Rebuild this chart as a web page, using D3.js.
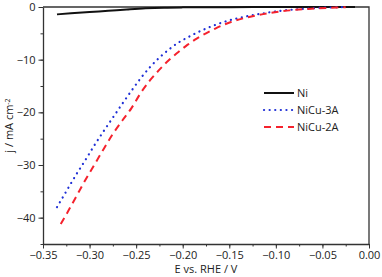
<!DOCTYPE html>
<html>
<head>
<meta charset="utf-8">
<script src="https://cdn.jsdelivr.net/npm/d3@7"></script>
<style>
  body { margin: 0; background: #fff; }
  svg text { font-family: "Open Sans", sans-serif; fill: #222; }
</style>
</head>
<body>
<div id="chart"></div>
<script>
// Values (E in V vs RHE, j in mA cm-2)
const niE = [-0.335, -0.32, -0.30, -0.28, -0.26, -0.24, -0.22, -0.20, -0.15, -0.10, -0.05, -0.015];
const niJ = [-1.4, -1.2, -0.95, -0.72, -0.47, -0.25, -0.12, -0.07, -0.03, -0.01, 0, 0];

const cu3E = [-0.335, -0.325, -0.315, -0.305, -0.295, -0.285, -0.275, -0.265, -0.255, -0.245,
              -0.235, -0.225, -0.215, -0.205, -0.195, -0.185, -0.175, -0.165, -0.155, -0.145,
              -0.135, -0.125, -0.115, -0.105, -0.095, -0.085, -0.075, -0.065, -0.055, -0.045,
              -0.035, -0.025];
const cu3J = [-38.0, -35.0, -32.0, -29.2, -26.3, -23.6, -21.0, -18.4, -15.9, -13.5,
              -11.4, -9.6, -8.1, -6.8, -5.8, -4.9, -4.1, -3.4, -2.8, -2.3,
              -1.9, -1.55, -1.25, -0.95, -0.72, -0.55, -0.42, -0.3, -0.2, -0.12,
              -0.06, -0.02];

const cu2E = [-0.331, -0.325, -0.315, -0.305, -0.295, -0.285, -0.275, -0.265, -0.255, -0.245,
              -0.235, -0.225, -0.215, -0.205, -0.195, -0.185, -0.175, -0.165, -0.155, -0.145,
              -0.135, -0.125, -0.115, -0.105, -0.095, -0.085, -0.075, -0.065, -0.055, -0.045,
              -0.035, -0.025];
const cu2J = [-41.2, -39.4, -36.2, -33.0, -30.0, -27.0, -24.1, -21.6, -19.2, -16.3,
              -13.9, -11.9, -10.1, -8.6, -7.2, -6.0, -5.0, -4.1, -3.3, -2.65,
              -2.15, -1.75, -1.4, -1.1, -0.85, -0.64, -0.48, -0.36, -0.26, -0.17,
              -0.1, -0.05];

const seriesNames = ["Ni", "NiCu-3A", "NiCu-2A"];
const xTicks = [-0.35, -0.30, -0.25, -0.20, -0.15, -0.10, -0.05, 0.00];
const yTicks = [0, -10, -20, -30, -40];

const W = 382, H = 277;
const margin = { top: 7, right: 13, bottom: 33, left: 43 };
const w = W - margin.left - margin.right;
const h = H - margin.top - margin.bottom;

const svg = d3.select("#chart").append("svg")
    .attr("width", W)
    .attr("height", H);

const g = svg.append("g")
    .attr("transform", `translate(${margin.left},${margin.top})`);

const x = d3.scaleLinear().domain([-0.35, 0]).range([0, w]);
const y = d3.scaleLinear().domain([-45, 0]).range([h, 0]);

const axisColor = "#333";
const fontSize = "11px";

// x axis with minor ticks
const xMinor = d3.range(-0.35, 0.001, 0.025);
g.append("g")
    .attr("transform", `translate(0,${h})`)
    .call(d3.axisBottom(x).tickValues(xMinor).tickSize(2.5).tickFormat(""))
    .call(a => a.select(".domain").remove())
    .selectAll("line").attr("stroke", axisColor);

const xAxis = g.append("g")
    .attr("transform", `translate(0,${h})`)
    .call(d3.axisBottom(x).tickValues(xTicks).tickSize(4.5).tickSizeOuter(0).tickPadding(3)
        .tickFormat(d3.format(".2f")));
xAxis.select(".domain").attr("stroke", axisColor).attr("stroke-width", 1.3);
xAxis.selectAll("line").attr("stroke", axisColor);
xAxis.selectAll("text").style("font-size", fontSize).attr("fill", "#222");

// y axis with minor ticks
const yMinor = d3.range(-45, 0.1, 5);
g.append("g")
    .call(d3.axisLeft(y).tickValues(yMinor).tickSize(2.5).tickFormat(""))
    .call(a => a.select(".domain").remove())
    .selectAll("line").attr("stroke", axisColor);

const yAxis = g.append("g")
    .call(d3.axisLeft(y).tickValues(yTicks).tickSize(4.5).tickSizeOuter(0).tickPadding(3)
        .tickFormat(d => d3.format("d")(d)));
yAxis.select(".domain").attr("stroke", axisColor).attr("stroke-width", 1.3);
yAxis.selectAll("line").attr("stroke", axisColor);
yAxis.selectAll("text").style("font-size", fontSize).attr("fill", "#222");

// frame (top and right)
g.append("path")
    .attr("d", `M0,0H${w}V${h}`)
    .attr("fill", "none")
    .attr("stroke", axisColor)
    .attr("stroke-width", 1.3);

// curves
const line = d3.line()
    .x(d => x(d[0]))
    .y(d => y(d[1]))
    .curve(d3.curveMonotoneX);

const series = [
    { name: seriesNames[0], pts: d3.zip(niE, niJ), color: "#111", dash: null, cap: "butt", width: 2 },
    { name: seriesNames[1], pts: d3.zip(cu3E, cu3J), color: "#1f2fd6", dash: "0.1,5.5", cap: "round", width: 2.2 },
    { name: seriesNames[2], pts: d3.zip(cu2E, cu2J), color: "#f5222d", dash: "7,5", cap: "butt", width: 2 }
];

g.selectAll("path.curve")
    .data(series)
    .enter().append("path")
    .attr("class", "curve")
    .attr("d", d => line(d.pts))
    .attr("fill", "none")
    .attr("stroke", d => d.color)
    .attr("stroke-width", d => d.width)
    .attr("stroke-linecap", d => d.cap)
    .attr("stroke-dasharray", d => d.dash);

// legend
const legend = svg.append("g").attr("transform", "translate(264,93)");
const item = legend.selectAll("g")
    .data(series)
    .enter().append("g")
    .attr("transform", (d, i) => `translate(0,${i * 17})`);

item.append("line")
    .attr("x1", 0).attr("x2", 30)
    .attr("stroke", d => d.color)
    .attr("stroke-width", d => d.width)
    .attr("stroke-linecap", d => d.cap)
    .attr("stroke-dasharray", d => d.dash);

item.append("text")
    .attr("x", 33)
    .attr("dy", "0.35em")
    .style("font-size", fontSize)
    .text(d => d.name);

// axis titles
svg.append("text")
    .attr("x", margin.left + w / 2)
    .attr("y", 273)
    .attr("text-anchor", "middle")
    .style("font-size", fontSize)
    .text("E vs. RHE / V");

const yTitle = svg.append("text")
    .attr("transform", `translate(13,${margin.top + h / 2}) rotate(-90)`)
    .attr("text-anchor", "middle")
    .style("font-size", fontSize);
yTitle.append("tspan").text("j / mA cm");
yTitle.append("tspan").attr("dy", "-0.45em").style("font-size", "7px").text("-2");
</script>
</body>
</html>
